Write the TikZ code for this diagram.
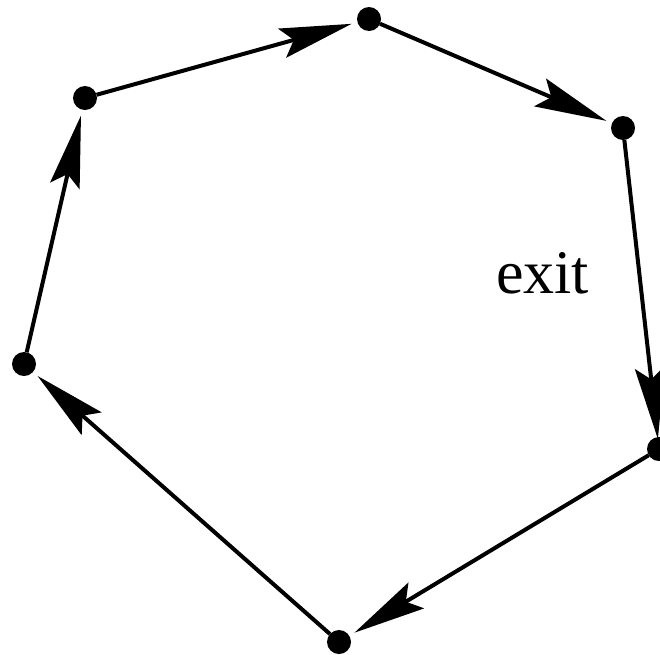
\documentclass[tikz,border=0pt]{standalone}
\usepackage{fontspec}
\setmainfont{Liberation Serif}
\usetikzlibrary{arrows.meta}
\begin{document}
\begin{tikzpicture}[x=1pt,y=-1pt,
  dot/.style={circle,fill=black,inner sep=0pt,minimum size=24pt,outer sep=0pt},
  edge/.style={line width=4pt,-{Stealth[length=72pt,width=30pt,inset=12pt]},shorten >=6pt}]
\useasboundingbox (0,0) rectangle (660,654);
\node[dot] (a) at (369,19) {};
\node[dot] (b) at (623,128) {};
\node[dot] (c) at (659,449) {};
\node[dot] (d) at (339,642) {};
\node[dot] (e) at (24,364) {};
\node[dot] (f) at (85,98) {};
\node[anchor=base west,inner sep=0pt,font=\fontsize{62}{62}\selectfont] (x) at (496,293) {exit};
\draw[edge] (f) -- (a);
\draw[edge] (a) -- (b);
\draw[edge,shorten >=-2pt] (b) -- (c);
\draw[edge] (c) -- (d);
\draw[edge] (d) -- (e);
\draw[edge] (e) -- (f);
\end{tikzpicture}
\end{document}
